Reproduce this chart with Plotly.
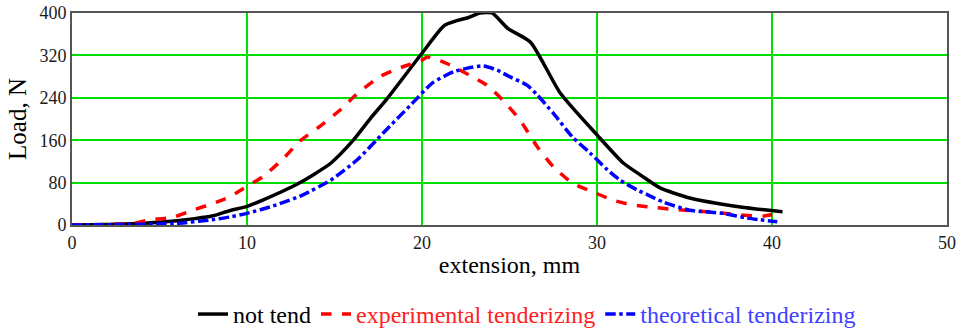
import plotly.graph_objects as go

# not tend
x_nt = [0, 2, 4, 5, 6, 7, 8, 9, 10, 10.9, 12.8, 13.8, 14.8, 16.1, 17.1, 18.0, 20.0, 21.3, 22.7, 23.3, 24.0, 24.9, 26.2, 27.9, 30.0, 31.5, 32.5, 33.6, 35.3, 38.2, 40.6]
y_nt = [0, 1, 3, 5, 8, 12, 17, 27, 35, 47, 76, 95, 117, 161, 203, 238, 324, 377, 392, 400, 400, 371, 345, 249, 170, 117, 94, 70, 51, 34, 25]

# experimental tenderizing
x_ex = [0, 2, 3.5, 4.3, 5.8, 6.9, 8.0, 9.0, 9.8, 10.9, 12.1, 13.0, 14.2, 15.5, 16.1, 17.6, 18.7, 20.0, 20.3, 21.4, 22.7, 23.7, 24.6, 25.6, 26.6, 27.5, 28.6, 29.8, 30.9, 32.0, 33.0, 34.2, 36.3, 38.2, 39.5, 40.3]
y_ex = [0, 1, 3, 9, 15, 28, 40, 53, 69, 91, 126, 158, 187, 222, 242, 280, 296, 311, 317, 305, 283, 264, 236, 198, 147, 110, 79, 62, 47, 38, 34, 30, 25, 19, 17, 22]

# theoretical tenderizing
x_th = [0, 3, 6, 8, 9.0, 10, 11.5, 13.2, 14.8, 16.3, 17.8, 19.4, 20.6, 21.8, 22.6, 23.5, 24.3, 25.0, 26.0, 26.6, 27.5, 28.6, 29.6, 30.6, 31.3, 32.3, 32.9, 33.8, 35.3, 37.2, 38.6, 40.3]
y_th = [0, 1, 3, 10, 15, 22, 36, 57, 85, 123, 174, 228, 268, 289, 296, 300, 292, 280, 264, 245, 211, 166, 136, 104, 85, 66, 57, 43, 28, 22, 13, 6]

x_ticks = [0, 10, 20, 30, 40, 50]
y_ticks = [0, 80, 160, 240, 320, 400]

font = "Liberation Serif, Times New Roman, serif"

fig = go.Figure()
fig.add_trace(go.Scatter(x=x_nt, y=y_nt, mode="lines", name="not tend",
                         line=dict(color="black", width=3.5, shape="spline", smoothing=0.6)))
fig.add_trace(go.Scatter(x=x_ex, y=y_ex, mode="lines",
                         name="<span style='color:#ff2020'>experimental tenderizing</span>",
                         line=dict(color="#ff0000", width=3.5, dash="dash", shape="spline", smoothing=0.6)))
fig.add_trace(go.Scatter(x=x_th, y=y_th, mode="lines",
                         name="<span style='color:#4040ff'>theoretical tenderizing</span>",
                         line=dict(color="#0000ff", width=3.5, dash="dashdot", shape="spline", smoothing=0.6)))

fig.update_layout(
    width=961, height=331,
    margin=dict(l=72, r=14, t=13, b=106, autoexpand=False),
    paper_bgcolor="white", plot_bgcolor="white",
    font=dict(family=font, size=18, color="#1a1a1a"),
    showlegend=True,
    legend=dict(orientation="h", x=0.52, xanchor="center", y=0.05, yanchor="middle",
                yref="container",
                font=dict(family=font, size=24, color="black"),
                itemwidth=30, tracegroupgap=0),
)
fig.update_xaxes(range=[0, 50], tickvals=x_ticks, ticks="", showgrid=True,
                 gridcolor="#00e000", gridwidth=1.5, zeroline=False,
                 showline=True, linecolor="#555555", linewidth=2, mirror=True,
                 automargin=False,
                 title=dict(text="extension, mm", font=dict(family=font, size=24, color="black"), standoff=5),
                 tickfont=dict(family=font, size=18))
fig.update_yaxes(range=[0, 400], tickvals=y_ticks, ticks="", showgrid=True,
                 gridcolor="#00e000", gridwidth=1.5, zeroline=False,
                 showline=True, linecolor="#555555", linewidth=2, mirror=True,
                 automargin=False,
                 title=dict(text="Load, N", font=dict(family=font, size=25, color="black"), standoff=6),
                 tickfont=dict(family=font, size=18))

fig.write_html("out.html", config={"displayModeBar": False},
               post_script="document.body.style.margin='0';document.body.style.padding='0';")
